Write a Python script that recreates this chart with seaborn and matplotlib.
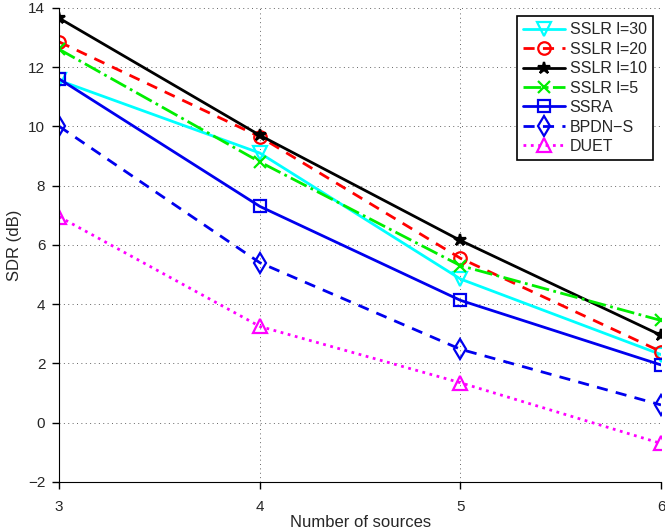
import pandas as pd
import matplotlib.pyplot as plt
import seaborn as sns

sns.set_style("ticks")
plt.rcParams["font.family"] = ["Liberation Sans", "DejaVu Sans"]

sources = [3, 4, 5, 6]
sslr_30 = [11.55, 9.1, 4.85, 2.3]
sslr_20 = [12.85, 9.65, 5.55, 2.4]
sslr_10 = [13.65, 9.7, 6.15, 2.95]
sslr_5 = [12.6, 8.8, 5.3, 3.45]
ssra = [11.6, 7.3, 4.13, 1.95]
bpdn_s = [10.0, 5.4, 2.48, 0.6]
duet = [6.95, 3.25, 1.35, -0.7]

series = [
    ("SSLR l=30", sslr_30, "cyan", "-", "v", 10),
    ("SSLR l=20", sslr_20, "red", (0, (4, 3)), "o", 9),
    ("SSLR l=10", sslr_10, "black", "-", "*", 9),
    ("SSLR l=5", sslr_5, "#00ee00", "-.", "x", 8),
    ("SSRA", ssra, "#0000ee", "-", "s", 8),
    ("BPDN\u2212S", bpdn_s, "#0000ee", (0, (4, 3)), "d", 10),
    ("DUET", duet, "magenta", ":", "^", 10),
]

fig = plt.figure(figsize=(6.65, 5.31), dpi=100)
ax = fig.add_axes([0.089, 0.0923, 0.905, 0.893])

for name, vals, col, ls, mk, ms in series:
    df = pd.DataFrame({"x": sources, "y": vals})
    filled = mk in ("*", "x")
    sns.lineplot(
        data=df, x="x", y="y", ax=ax, label=name, color=col, linestyle=ls,
        linewidth=2, marker=mk, markersize=ms,
        markerfacecolor=col if filled else "none", markeredgecolor=col,
        markeredgewidth=1.6,
    )

ax.set_xlim(3, 6)
ax.set_ylim(-2, 14)
ax.set_xticks(sources)
ax.set_yticks(range(-2, 15, 2))
ax.grid(True, color="#666666", linestyle=(0, (1, 3.5)), linewidth=0.7)
ax.tick_params(direction="out", labelsize=11, length=5, width=1, color="black", pad=5)
ax.tick_params(axis="x", pad=8)
ax.spines["top"].set_visible(False)
ax.spines["right"].set_visible(False)
ax.spines["left"].set_color("black")
ax.spines["bottom"].set_color("black")
ax.set_xlabel("Number of sources", fontsize=12, labelpad=1)
ax.set_ylabel("SDR (dB)", fontsize=12)

leg = ax.legend(loc="upper right", fontsize=11.5, frameon=True, fancybox=False,
                framealpha=1, edgecolor="black", handlelength=2.6,
                borderaxespad=0.5, labelspacing=0.28, handletextpad=0.3,
                borderpad=0.4)
leg.get_frame().set_linewidth(1.2)

plt.savefig("out.png", dpi=100)
